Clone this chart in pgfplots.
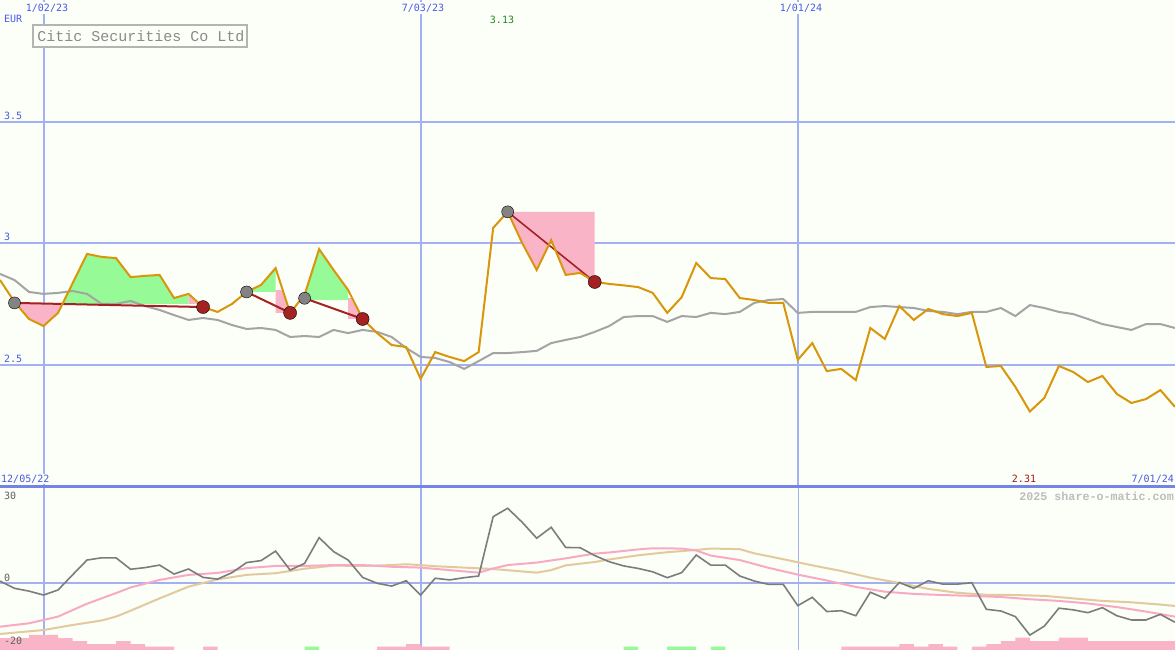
\documentclass[border=0pt]{standalone}
\usepackage{fontspec}
\setmainfont{DejaVu Sans Mono}
\newfontfamily\titlefont{Liberation Mono}
\usepackage{pgfplots}
\usepackage{pgfplotstable}
\pgfplotsset{compat=1.18}

\definecolor{bgcol}{HTML}{FCFEF8}
\definecolor{gridblue}{HTML}{A3B1F2}
\definecolor{sepblue}{HTML}{7383E6}
\definecolor{lblblue}{HTML}{4A5AE6}
\definecolor{price}{HTML}{D8960A}
\definecolor{magray}{HTML}{A4A4A4}
\definecolor{upfill}{HTML}{96FA96}
\definecolor{downfill}{HTML}{FAB4C8}
\definecolor{trendred}{HTML}{A52222}
\definecolor{dotgray}{HTML}{838383}
\definecolor{oscgray}{HTML}{7C7C7C}
\definecolor{sigpink}{HTML}{F8AAC4}
\definecolor{sigtan}{HTML}{E2CA9C}
\definecolor{higreen}{HTML}{1E8C1E}
\definecolor{lored}{HTML}{A01818}
\definecolor{markgray}{HTML}{BDBDBD}
\definecolor{titlegray}{HTML}{B4B4B4}
\definecolor{titletext}{HTML}{8A8A8A}
\definecolor{axtext}{HTML}{606060}

% weekly close, moving average and oscillator
\pgfplotstableread{
i close ma osc
0 2.850 2.875 0.7
1 2.760 2.850 -1.9
2 2.690 2.801 -2.9
3 2.661 2.793 -4.3
4 2.715 2.797 -2.5
5 2.836 2.805 2.9
6 2.957 2.793 8.2
7 2.945 2.752 9.0
8 2.940 2.752 9.0
9 2.862 2.764 4.9
10 2.867 2.743 5.5
11 2.871 2.727 6.4
12 2.776 2.706 3.2
13 2.793 2.686 5.0
14 2.739 2.694 2.0
15 2.719 2.686 1.4
16 2.752 2.665 3.7
17 2.801 2.649 7.3
18 2.830 2.653 8.0
19 2.899 2.645 11.4
20 2.715 2.616 4.6
21 2.789 2.620 7.0
22 2.977 2.616 16.2
23 2.891 2.645 11.2
24 2.809 2.632 8.2
25 2.690 2.645 2.0
26 2.632 2.637 -0.1
27 2.583 2.616 -1.1
28 2.575 2.571 0.8
29 2.444 2.534 -4.3
30 2.554 2.530 1.7
31 2.534 2.513 1.1
32 2.517 2.485 1.9
33 2.554 2.517 2.5
34 3.064 2.550 23.7
35 3.130 2.550 26.7
36 3.002 2.554 21.7
37 2.891 2.559 16.0
38 3.014 2.591 19.9
39 2.871 2.604 12.7
40 2.879 2.616 12.6
41 2.842 2.637 9.8
42 2.834 2.661 7.6
43 2.828 2.698 6.1
44 2.821 2.702 5.2
45 2.797 2.702 4.0
46 2.715 2.678 1.9
47 2.780 2.702 3.7
48 2.920 2.698 10.0
49 2.858 2.715 6.4
50 2.854 2.710 6.4
51 2.776 2.719 2.5
52 2.768 2.756 0.7
53 2.756 2.768 -0.5
54 2.756 2.772 -0.5
55 2.522 2.715 -8.1
56 2.591 2.719 -5.1
57 2.476 2.719 -10.2
58 2.485 2.719 -9.9
59 2.439 2.719 -11.7
60 2.653 2.739 -3.3
61 2.608 2.743 -5.5
62 2.743 2.739 0.2
63 2.686 2.735 -1.9
64 2.731 2.723 0.8
65 2.710 2.719 -0.4
66 2.702 2.710 -0.4
67 2.715 2.719 0.1
68 2.493 2.719 -9.4
69 2.497 2.735 -10.0
70 2.411 2.702 -12.0
71 2.310 2.747 -18.6
72 2.366 2.735 -15.4
73 2.497 2.719 -9.0
74 2.472 2.710 -9.6
75 2.431 2.690 -10.6
76 2.456 2.669 -8.8
77 2.382 2.657 -11.7
78 2.345 2.645 -13.2
79 2.361 2.669 -13.2
80 2.398 2.669 -11.2
81 2.329 2.653 -14.0
}\weekly

% smoothed signal lines of the lower panel
\pgfplotstableread{
i v
0 -15.6
2 -14.4
4 -12.0
6 -7.4
8 -3.6
9 -1.6
11 1.1
13 2.9
15 3.6
17 5.3
19 6.1
21 6.1
23 6.4
25 6.4
27 5.8
29 5.5
31 4.6
33 3.7
34 5.2
35 6.4
37 7.3
39 8.8
41 10.5
42 10.9
44 12.0
45 12.4
47 12.3
48 11.6
49 9.8
51 8.2
53 5.4
55 3.0
57 0.9
59 -1.4
61 -3.1
63 -3.9
65 -4.3
67 -4.6
69 -5.0
71 -5.8
73 -6.4
75 -7.3
77 -8.6
79 -10.2
81 -12.0
}\pinksig

\pgfplotstableread{
i v
0 -18.2
3 -16.8
5 -15.0
7 -13.4
8 -12.0
9 -9.9
11 -5.5
13 -1.3
15 1.3
17 2.9
19 3.5
21 5.1
23 6.2
25 6.1
27 6.4
28 6.7
29 6.4
30 6.0
32 5.5
34 5.0
37 3.7
38 4.6
39 6.3
41 7.5
42 8.4
44 9.9
46 11.0
48 11.8
49 12.3
51 12.1
52 10.6
54 8.5
56 6.3
58 4.3
60 1.9
62 0.0
64 -2.1
66 -3.5
68 -4.2
70 -4.3
72 -4.6
74 -5.5
76 -6.4
78 -6.9
80 -7.7
81 -8.2
}\tansig

% bars along the bottom of the lower panel
\pgfplotstableread{
x h
0.5 4.2
1.5 4.2
2.5 5.4
3.5 5.4
4.5 4.2
5.5 3.2
6.5 2.1
7.5 2.1
8.5 3.2
9.5 2.1
10.5 1.2
11.5 1.2
14.5 1.2
26.5 1.2
27.5 1.2
28.5 2.1
29.5 1.2
30.5 1.2
58.5 1.2
59.5 1.2
60.5 1.2
61.5 1.2
62.5 2.1
63.5 1.2
64.5 2.1
65.5 1.2
67.5 1.2
68.5 2.1
69.5 3.2
70.5 4.4
71.5 3.2
72.5 3.2
73.5 4.4
74.5 4.4
75.5 3.2
76.5 3.2
77.5 3.2
78.5 3.2
79.5 3.2
80.5 3.2
}\downbars

\pgfplotstableread{
x h
21.5 1.2
43.5 1.2
46.5 1.2
47.5 1.2
49.5 1.2
}\upbars

\pgfplotsset{
  chartaxis/.style={
    width=1175pt, scale only axis, anchor=south west,
    xmin=0, xmax=81,
    axis line style={draw=none}, tick style={draw=none},
    xticklabels={}, yticklabels={},
  },
}
\tikzset{lbl/.style={font=\fontsize{10}{12}\selectfont, inner sep=0pt}}

\begin{document}
\begin{tikzpicture}
\fill[bgcol] (0,0) rectangle (1175pt,650pt);

% price panel
\begin{axis}[chartaxis, at={(0pt,163pt)}, height=487pt,
  ymin=2, ymax=4,
  xtick={3.03,29.03,55.03}, ytick={2.5,3,3.5},
  grid=major, major grid style={gridblue, line width=2pt}]

  % rising / falling areas
  \addplot[fill=downfill, draw=none] coordinates {(1,2.756) (2,2.690) (3,2.661) (4,2.715) (4.31,2.752) (1,2.752)};
  \addplot[fill=upfill, draw=none] coordinates {(4.31,2.752) (5,2.836) (6,2.957) (7,2.945) (8,2.940) (9,2.862) (10,2.867) (11,2.871) (12,2.776) (13,2.793) (13,2.752)};
  \addplot[fill=downfill, draw=none] coordinates {(13,2.793) (13.76,2.752) (13,2.752)};
  \addplot[fill=upfill, draw=none] coordinates {(17,2.801) (18,2.830) (19,2.899) (19,2.801)};
  \addplot[fill=downfill, draw=none] coordinates {(19,2.809) (19.49,2.809) (20,2.715) (19,2.715)};
  \addplot[fill=upfill, draw=none] coordinates {(21,2.768) (21,2.789) (22,2.977) (23,2.891) (24,2.809) (24,2.768)};
  \addplot[fill=downfill, draw=none] coordinates {(24,2.776) (24.28,2.776) (25,2.690) (24,2.690)};
  \addplot[fill=downfill, draw=none] coordinates {(35,3.130) (36,3.002) (37,2.891) (38,3.014) (39,2.871) (40,2.879) (41,2.842) (41,3.130)};

  % moving average
  \addplot[magray, line width=2pt] table[x=i, y=ma] {\weekly};

  % trend segments
  \addplot[trendred, line width=2pt] coordinates {(1,2.756) (14,2.739)};
  \addplot[trendred, line width=2pt] coordinates {(17,2.801) (20,2.715)};
  \addplot[trendred, line width=2pt] coordinates {(21,2.775) (25,2.690)};
  \addplot[trendred, line width=1.6pt] coordinates {(35,3.130) (41,2.842)};

  % turning points
  \addplot[only marks, mark=*, mark size=6pt, mark options={fill=dotgray, draw=none}] coordinates {(1,2.756) (17,2.801) (21,2.775) (35,3.130)};
  \addplot[only marks, mark=*, mark size=6.5pt, mark options={fill=trendred, draw=none}] coordinates {(14,2.739) (20,2.715) (25,2.690) (41,2.842)};

  % close
  \addplot[price, line width=2pt] table[x=i, y=close] {\weekly};
\end{axis}

% bars and vertical grid of the lower panel
\begin{axis}[chartaxis, at={(0pt,0pt)}, height=163pt,
  ymin=0, ymax=58.22,
  xtick={3.03,29.03,55.03}, ytick=\empty,
  xmajorgrids, major grid style={gridblue, line width=1.2pt}]
  \addplot[ybar, bar width=1, bar shift=0pt, fill=downfill, draw=none] table[x=x, y=h] {\downbars};
  \addplot[ybar, bar width=1, bar shift=0pt, fill=upfill, draw=none] table[x=x, y=h] {\upbars};
\end{axis}

% oscillator panel
\begin{axis}[chartaxis, at={(0pt,0pt)}, height=163pt,
  ymin=-23.93, ymax=34.29,
  xtick=\empty, ytick={0},
  ymajorgrids, major grid style={gridblue, line width=2pt}]
  \addplot[sigtan, line width=2pt] table[x=i, y=v] {\tansig};
  \addplot[sigpink, line width=2pt] table[x=i, y=v] {\pinksig};
  \addplot[oscgray, line width=1.6pt] table[x=i, y=osc] {\weekly};
\end{axis}

% panel separator
\draw[sepblue, line width=3pt] (0pt,163pt) -- (1175pt,163pt);

% title box
\draw[titlegray, line width=2pt, fill=bgcol] (33.3pt,602.7pt) rectangle (247.3pt,624.7pt);
\node[text=titletext, inner sep=0pt, font=\titlefont\fontsize{15}{18}\selectfont] at (141pt,613.7pt) {Citic Securities Co Ltd};

% labels
\node[lbl, text=lblblue, anchor=west] at (4pt,631pt) {EUR};
\node[lbl, text=lblblue, fill=bgcol, inner sep=1.5pt] at (47pt,642pt) {1/02/23};
\node[lbl, text=lblblue, fill=bgcol, inner sep=1.5pt] at (423pt,642pt) {7/03/23};
\node[lbl, text=lblblue, fill=bgcol, inner sep=1.5pt] at (801pt,642pt) {1/01/24};
\node[lbl, text=higreen] at (502pt,630pt) {3.13};
\node[lbl, text=lblblue, anchor=west] at (4pt,534pt) {3.5};
\node[lbl, text=lblblue, anchor=west] at (4pt,413pt) {3};
\node[lbl, text=lblblue, anchor=west] at (4pt,291pt) {2.5};
\node[lbl, text=lblblue, anchor=west, fill=bgcol, inner sep=1pt] at (0pt,171pt) {12/05/22};
\node[lbl, text=lored] at (1024pt,171pt) {2.31};
\node[lbl, text=lblblue, anchor=east] at (1174pt,171pt) {7/01/24};
\node[inner sep=0pt, anchor=east, text=markgray, font=\titlefont\bfseries\fontsize{11.7}{14}\selectfont] at (1174pt,154pt) {2025 share-o-matic.com};
\node[lbl, text=axtext, anchor=west] at (4pt,154pt) {30};
\node[lbl, text=axtext, anchor=west] at (4pt,72pt) {0};
\node[lbl, text=axtext, anchor=west] at (4pt,9pt) {-20};

\pgfresetboundingbox
\path[use as bounding box] (0,0) rectangle (1175pt,650pt);
\end{tikzpicture}
\end{document}
